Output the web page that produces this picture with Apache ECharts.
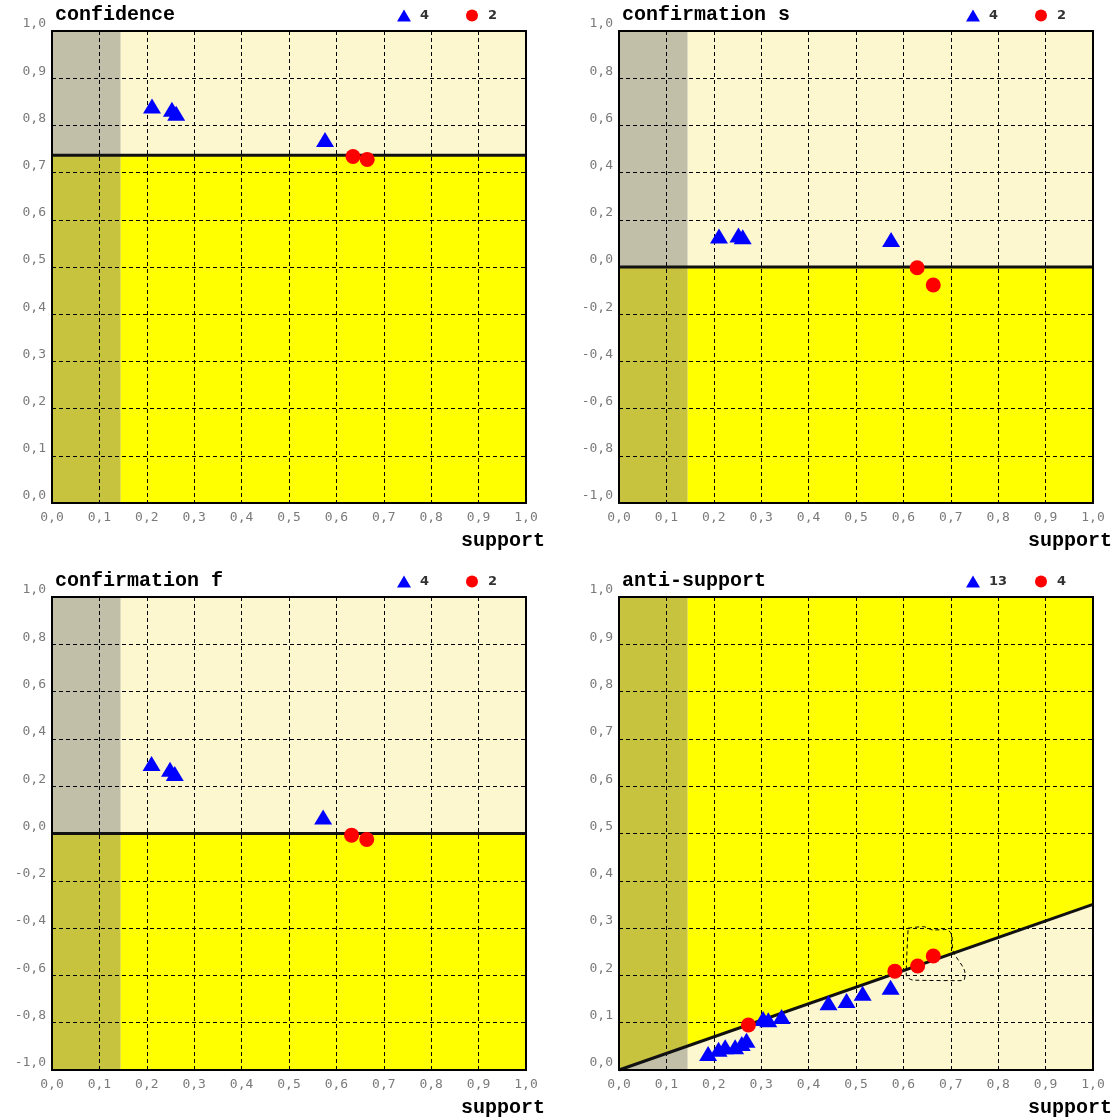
<!DOCTYPE html>
<html>
<head>
<meta charset="utf-8">
<title>support charts</title>
<script src="https://cdn.jsdelivr.net/npm/echarts@6/dist/echarts.min.js"></script>
<style>
  html, body { margin: 0; padding: 0; background: #fff; }
  #chart { width: 1115px; height: 1117px; }
</style>
</head>
<body>
<div id="chart"></div>
<script>
// panel titles
const panelTitles = ['confidence', 'confirmation s', 'confirmation f', 'anti-support']

// y axis ranges per panel [min, max, interval]
const yRanges = [[0, 1, 0.1], [-1, 1, 0.2], [-1, 1, 0.2], [0, 1, 0.1]]

// minimal support (gray column) and threshold lines (value at support 0 and 1)
const minSupport = 0.145
const confidenceLine = [0.737, 0.737]
const confirmationSLine = [0, 0]
const confirmationFLine = [0, 0]
const antiSupportLine = [0, 0.35]

// [support, measure]
const confidenceTri = [[0.211, 0.841], [0.253, 0.834], [0.262, 0.826], [0.576, 0.770]]
const confidenceDot = [[0.635, 0.734], [0.665, 0.728]]

const confirmationSTri = [[0.211, 0.131], [0.252, 0.136], [0.261, 0.128], [0.574, 0.117]]
const confirmationSDot = [[0.629, -0.003], [0.663, -0.076]]

const confirmationFTri = [[0.210, 0.296], [0.249, 0.272], [0.259, 0.254], [0.572, 0.070]]
const confirmationFDot = [[0.632, -0.007], [0.664, -0.025]]

const antiSupportTri = [
    [0.188, 0.035], [0.210, 0.044], [0.224, 0.049], [0.245, 0.049], [0.259, 0.056], [0.269, 0.063],
    [0.304, 0.109], [0.315, 0.106], [0.343, 0.113],
    [0.442, 0.142], [0.480, 0.147], [0.514, 0.162], [0.573, 0.175]
]
const antiSupportDot = [[0.273, 0.095], [0.582, 0.209], [0.630, 0.220], [0.663, 0.241]]

// hand drawn selection round the red points
const antiSupportLasso = [
    [0.610, 0.300], [0.642, 0.303], [0.663, 0.296], [0.691, 0.297], [0.702, 0.285], [0.704, 0.254],
    [0.730, 0.204], [0.726, 0.189], [0.621, 0.190], [0.606, 0.201], [0.610, 0.300]
]

const panels = [
    { line: confidenceLine, tri: confidenceTri, dot: confidenceDot, invert: false },
    { line: confirmationSLine, tri: confirmationSTri, dot: confirmationSDot, invert: false },
    { line: confirmationFLine, tri: confirmationFTri, dot: confirmationFDot, invert: false },
    { line: antiSupportLine, tri: antiSupportTri, dot: antiSupportDot, invert: true }
]

const CREAM = '#fdf7d0'
const CREAM_GRAY = '#c2bfa8'
const YELLOW = '#ffff00'
const YELLOW_GRAY = '#c8c33e'

const gridBoxes = [
    { left: 52, top: 31, width: 474, height: 472 },
    { left: 619, top: 31, width: 474, height: 472 },
    { left: 52, top: 597, width: 474, height: 473 },
    { left: 619, top: 597, width: 474, height: 473 }
]

const titleFont = { fontFamily: 'Liberation Mono', fontWeight: 'bold', fontSize: 20, color: '#000' }
const fmt = v => v.toFixed(1).replace('.', ',')

const chart = echarts.init(document.getElementById('chart'))

const grid = [], xAxis = [], yAxis = [], title = [], legend = [], series = []

panels.forEach((p, i) => {
    const box = gridBoxes[i]
    const [yMin, yMax, yStep] = yRanges[i]

    grid.push(Object.assign({
        show: true, z: 5, backgroundColor: 'transparent', borderColor: '#000', borderWidth: 2,
        outerBoundsMode: 'none', containLabel: false
    }, box))

    title.push({
        text: panelTitles[i], left: box.left + 3, top: box.top - 26, padding: 0,
        textStyle: titleFont
    })

    xAxis.push({
        type: 'value', gridIndex: i, min: 0, max: 1, interval: 0.1, z: 2,
        // name sits under the right end of the axis, ending just past the box
        name: 'support', nameLocation: 'end', nameGap: 19, nameMoveOverlap: false,
        nameTextStyle: Object.assign({ align: 'right', verticalAlign: 'top', padding: [29, 0, 0, 0], lineHeight: 18 }, titleFont),
        axisLine: { show: false, onZero: false }, axisTick: { show: false },
        axisLabel: { formatter: fmt, margin: 8, color: '#7a7a7a', fontFamily: 'DejaVu Sans Mono', fontSize: 13 },
        splitLine: { show: true, lineStyle: { color: '#000', type: [4, 3], width: 1 } }
    })
    yAxis.push({
        type: 'value', gridIndex: i, min: yMin, max: yMax, interval: yStep, z: 2,
        axisLine: { show: false, onZero: false }, axisTick: { show: false },
        axisLabel: { formatter: fmt, margin: 6, verticalAlign: 'bottom', lineHeight: 14, color: '#7a7a7a', fontFamily: 'DejaVu Sans Mono', fontSize: 13 },
        splitLine: { show: true, lineStyle: { color: '#000', type: [4, 3], width: 1 } }
    })

    const above = p.invert ? [YELLOW_GRAY, YELLOW] : [CREAM_GRAY, CREAM]
    const below = p.invert ? [CREAM_GRAY, CREAM] : [YELLOW_GRAY, YELLOW]
    const lineAt = x => p.line[0] + (p.line[1] - p.line[0]) * x

    series.push({
        type: 'custom', xAxisIndex: i, yAxisIndex: i, z: 1, silent: true,
        data: [[0.5, (yMin + yMax) / 2]],
        renderItem: function (params, api) {
            const cols = [[0, minSupport], [minSupport, 1]]
            const children = []
            cols.forEach((c, k) => {
                const [xa, xb] = c
                const up = [[xa, lineAt(xa)], [xb, lineAt(xb)], [xb, yMax], [xa, yMax]].map(v => api.coord(v))
                const dn = [[xa, yMin], [xb, yMin], [xb, lineAt(xb)], [xa, lineAt(xa)]].map(v => api.coord(v))
                children.push({ type: 'polygon', shape: { points: up }, style: { fill: above[k] } })
                children.push({ type: 'polygon', shape: { points: dn }, style: { fill: below[k] } })
            })
            return { type: 'group', children: children }
        }
    })

    series.push({
        type: 'line', xAxisIndex: i, yAxisIndex: i, z: 3, silent: true,
        symbol: 'none', data: [[0, p.line[0]], [1, p.line[1]]],
        lineStyle: { color: '#111', width: 3 }
    })

    const triName = 'tri' + i, dotName = 'dot' + i
    series.push({
        name: triName, type: 'scatter', xAxisIndex: i, yAxisIndex: i, z: 4,
        symbol: 'triangle', symbolSize: [18, 15], data: p.tri,
        itemStyle: { color: '#0000ff', opacity: 1 }
    })
    series.push({
        name: dotName, type: 'scatter', xAxisIndex: i, yAxisIndex: i, z: 4,
        symbol: 'circle', symbolSize: 15, data: p.dot,
        itemStyle: { color: '#ff0000', opacity: 1 }
    })

    const legendBase = {
        top: box.top - 22, itemWidth: 14, itemHeight: 12, padding: 0, itemGap: 0, selectedMode: false,
        textStyle: { fontFamily: 'DejaVu Sans', fontWeight: 'bold', fontSize: 13, color: '#333', padding: [0, 0, 0, 4] }
    }
    legend.push(Object.assign({}, legendBase, {
        left: box.left + 345 + (i % 2 ? 2 : 0),
        data: [{ name: triName, icon: 'triangle' }],
        formatter: () => String(p.tri.length)
    }))
    legend.push(Object.assign({}, legendBase, {
        left: box.left + 414 + (i % 2 ? 2 : 0),
        data: [{ name: dotName, icon: 'circle' }],
        formatter: () => String(p.dot.length)
    }))
})

// selection outline in the anti-support panel
series.push({
    type: 'line', xAxisIndex: 3, yAxisIndex: 3, z: 4, silent: true,
    symbol: 'none', smooth: 0.3, data: antiSupportLasso,
    lineStyle: { color: '#000', width: 1, type: [4, 3] }
})

chart.setOption({
    animation: false,
    title: title,
    legend: legend,
    grid: grid,
    xAxis: xAxis,
    yAxis: yAxis,
    series: series
})
</script>
</body>
</html>
